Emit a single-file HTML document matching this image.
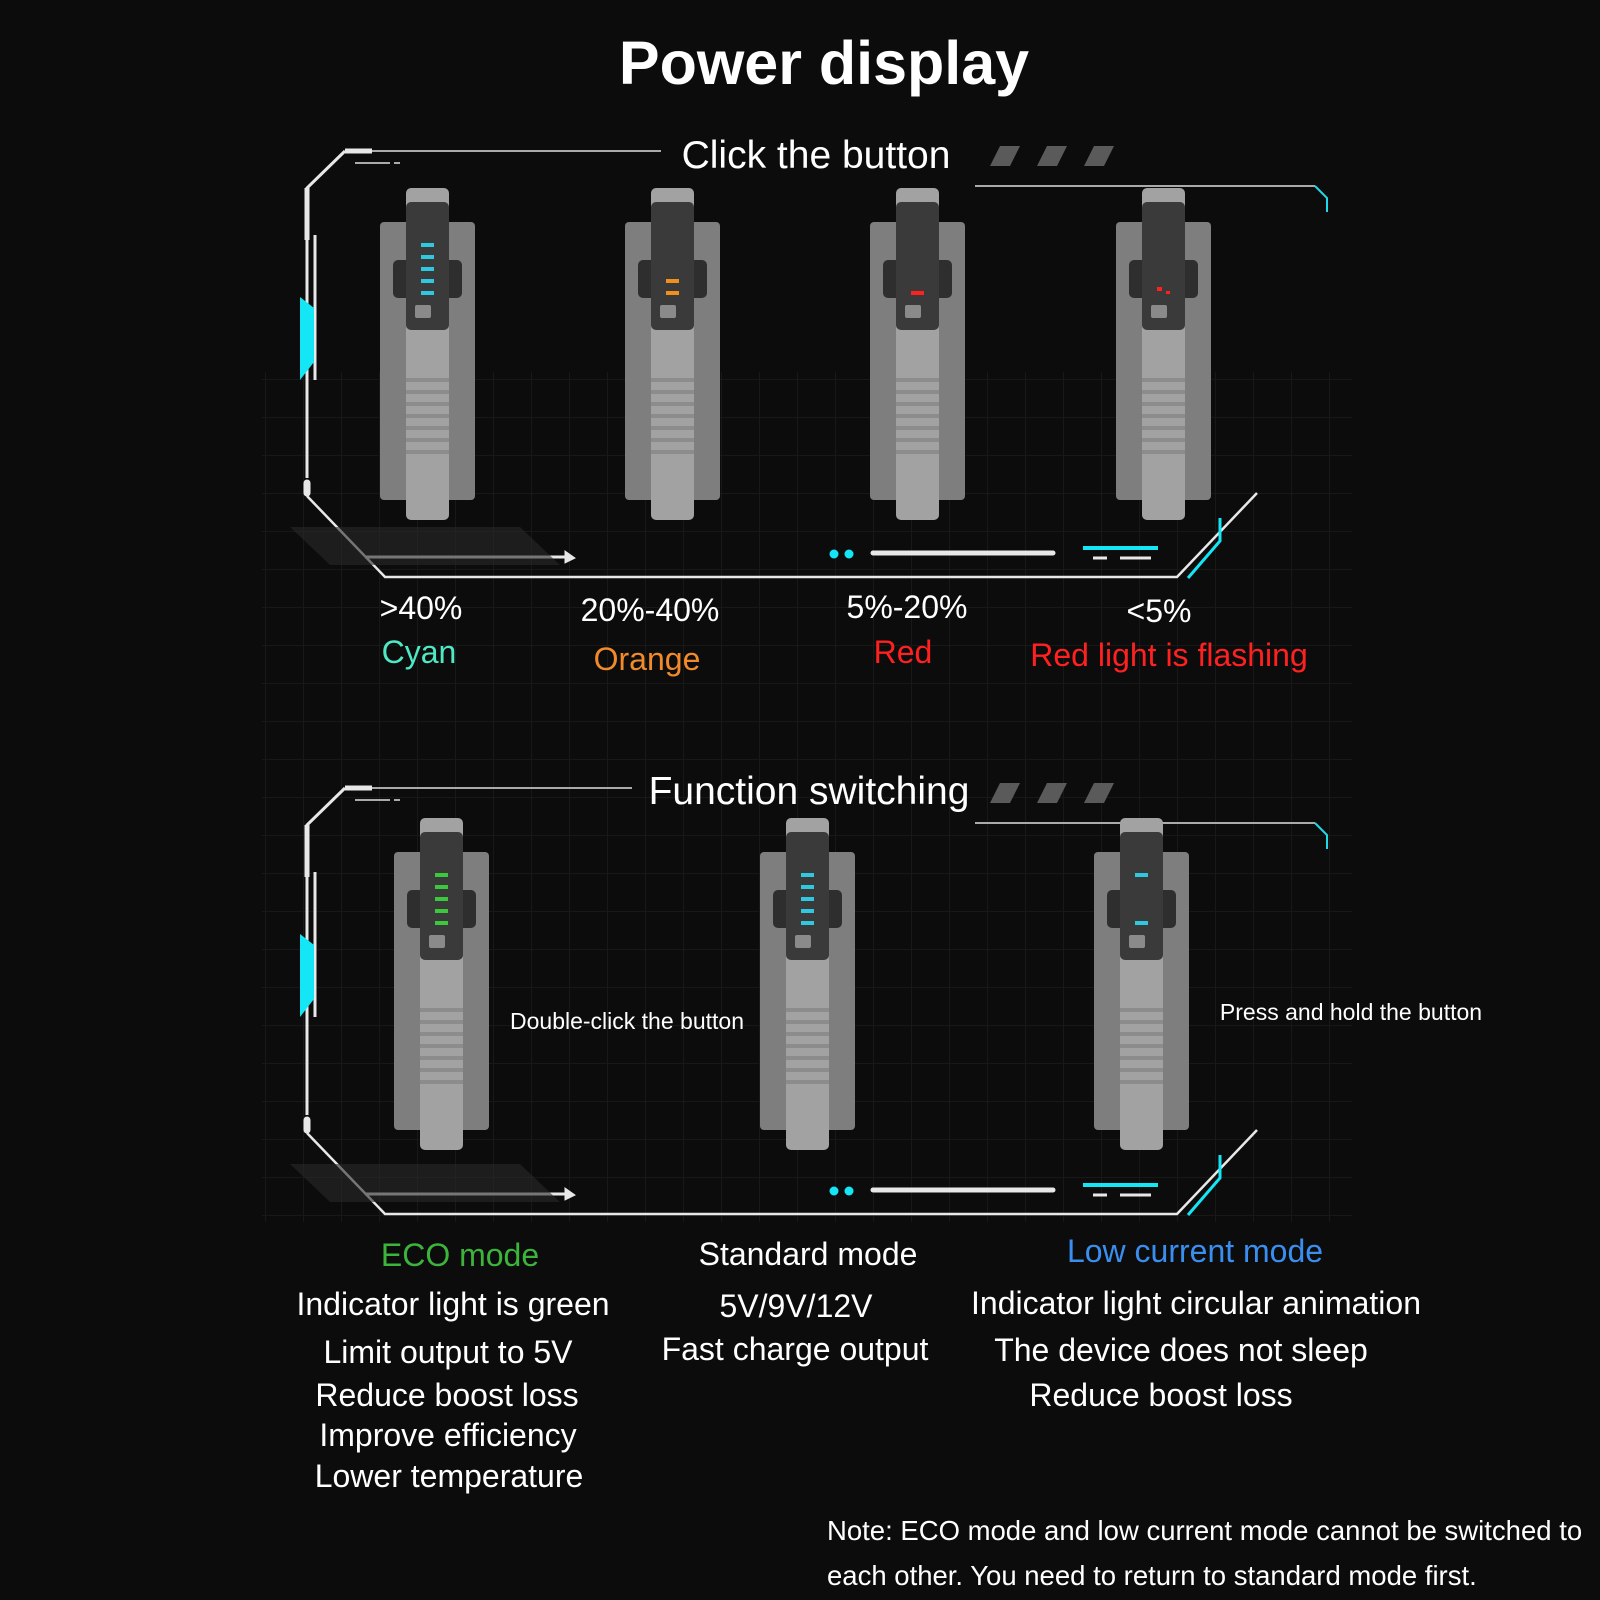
<!DOCTYPE html>
<html><head><meta charset="utf-8"><style>
html,body{margin:0;padding:0;background:#0c0c0c;}
body{width:1600px;height:1600px;overflow:hidden;position:relative;font-family:"Liberation Sans",sans-serif;}
.t{position:absolute;white-space:nowrap;transform:translateX(-50%);color:#fff;}
</style></head><body>
<svg width="1600" height="1600" style="position:absolute;left:0;top:0">
<defs>
<pattern id="grid" width="38" height="38" patternUnits="userSpaceOnUse">
<path d="M38 0V38H0" fill="none" stroke="#181818" stroke-width="2"/>
</pattern>
<g id="dev">
<rect x="0" y="0" width="95" height="278" rx="4" fill="#7e7e7e"/>
<rect x="26" y="-34" width="43" height="332" rx="5" fill="#a2a2a2"/>
<rect x="13" y="38" width="69" height="38" rx="5" fill="#2e2e2e"/>
<rect x="26" y="-20" width="43" height="128" rx="5" fill="#3a3a3a"/>
<rect x="35" y="83" width="16" height="13" rx="2" fill="#8a8a8a"/>
<g fill="#8c8c8c"><rect x="26" y="156" width="43" height="4"/><rect x="26" y="168" width="43" height="4"/><rect x="26" y="180" width="43" height="4"/><rect x="26" y="192" width="43" height="4"/><rect x="26" y="204" width="43" height="4"/><rect x="26" y="216" width="43" height="4"/><rect x="26" y="228" width="43" height="4"/></g>
</g>
<g id="frame" fill="none" stroke="#e8e8e8">
<path d="M345 151H372" stroke-width="5"/>
<path d="M355 163H390M394 163H400" stroke-width="2" stroke="#aaa"/>
<path d="M345 151L307 188V478" stroke-width="3"/>
<path d="M307 188V240" stroke-width="5"/>
<rect x="304" y="480" width="6" height="16" rx="3" fill="#e8e8e8"/>
<path d="M307 496L385 577H1177L1257 493" stroke-width="2.5"/>
<path d="M315 235V380" stroke-width="3"/>
<path d="M365 557H565" stroke-width="3"/>
<path d="M565 551L575 558L565 563Z" fill="#e8e8e8"/>
<path d="M975 186H1315" stroke-width="2" stroke="#aaa"/>
<path d="M1315 186L1327 198V212" stroke="#22d8e8" stroke-width="2"/>
<path d="M300 297L314 308V362L300 380Z" fill="#14e6f5" stroke="none"/>
<circle cx="834" cy="554" r="4.5" fill="#14e6f5" stroke="none"/>
<circle cx="849" cy="554" r="4.5" fill="#14e6f5" stroke="none"/>
<path d="M873 553H1053" stroke-width="5" stroke-linecap="round"/>
<path d="M1085 550V548H1156V550" stroke="#14e6f5" stroke-width="4"/>
<path d="M1093 558H1107M1120 558H1151" stroke-width="3"/>
<path d="M1188 578L1220 541V518" stroke="#14e6f5" stroke-width="3"/>
<path d="M290 527L330 565H560L520 527Z" fill="#2a2a2a" stroke="none" opacity=".6"/>
</g>
</defs>
<rect x="262" y="372" width="1090" height="850" fill="url(#grid)"/>
<use href="#frame"/>
<use href="#frame" transform="translate(0,637)"/>
<path d="M372 151H661" stroke="#aaa" stroke-width="2"/>
<path d="M372 788H632" stroke="#aaa" stroke-width="2"/>
<g fill="#5a5a5a">
<path d="M1000 146H1020L1010 166H990Z"/><path d="M1047 146H1067L1057 166H1037Z"/><path d="M1094 146H1114L1104 166H1084Z"/>
<path d="M1000 783H1020L1010 803H990Z"/><path d="M1047 783H1067L1057 803H1037Z"/><path d="M1094 783H1114L1104 803H1084Z"/>
</g>
<g transform="translate(380,222)"><use href="#dev"/><g fill="#2ec8e0"><rect x="41" y="21" width="13" height="4"/><rect x="41" y="33" width="13" height="4"/><rect x="41" y="45" width="13" height="4"/><rect x="41" y="57" width="13" height="4"/><rect x="41" y="69" width="13" height="4"/></g></g>
<g transform="translate(625,222)"><use href="#dev"/><g fill="#f0901a"><rect x="41" y="57" width="13" height="4"/><rect x="41" y="69" width="13" height="4"/></g></g>
<g transform="translate(870,222)"><use href="#dev"/><rect x="41" y="69" width="13" height="4" fill="#ff2020"/></g>
<g transform="translate(1116,222)"><use href="#dev"/><rect x="41" y="65" width="5" height="4" fill="#ff2020"/><rect x="50" y="69" width="4" height="3" fill="#ff2020"/></g>
<g transform="translate(394,852)"><use href="#dev"/><g fill="#3cc83c"><rect x="41" y="21" width="13" height="4"/><rect x="41" y="33" width="13" height="4"/><rect x="41" y="45" width="13" height="4"/><rect x="41" y="57" width="13" height="4"/><rect x="41" y="69" width="13" height="4"/></g></g>
<g transform="translate(760,852)"><use href="#dev"/><g fill="#2ec8e0"><rect x="41" y="21" width="13" height="4"/><rect x="41" y="33" width="13" height="4"/><rect x="41" y="45" width="13" height="4"/><rect x="41" y="57" width="13" height="4"/><rect x="41" y="69" width="13" height="4"/></g></g>
<g transform="translate(1094,852)"><use href="#dev"/><g fill="#2ec8e0"><rect x="41" y="21" width="13" height="4"/><rect x="41" y="69" width="13" height="4"/></g></g>
</svg>
<div class="t" style="left:824px;top:28px;font-size:61px;font-weight:bold;">Power display</div>
<div class="t" style="left:816px;top:134px;font-size:39px;">Click the button</div>
<div class="t" style="left:421px;top:590px;font-size:32px;">&gt;40%</div>
<div class="t" style="left:419px;top:634px;font-size:32px;color:#4fe8c4;">Cyan</div>
<div class="t" style="left:650px;top:592px;font-size:32px;">20%-40%</div>
<div class="t" style="left:647px;top:641px;font-size:32px;color:#f08a2a;">Orange</div>
<div class="t" style="left:907px;top:589px;font-size:32px;">5%-20%</div>
<div class="t" style="left:903px;top:634px;font-size:32px;color:#ff2020;">Red</div>
<div class="t" style="left:1159px;top:593px;font-size:32px;">&lt;5%</div>
<div class="t" style="left:1169px;top:637px;font-size:32px;color:#ff2020;">Red light is flashing</div>
<div class="t" style="left:809px;top:770px;font-size:39px;">Function switching</div>
<div class="t" style="left:627px;top:1008px;font-size:23px;">Double-click the button</div>
<div class="t" style="left:1351px;top:999px;font-size:23px;">Press and hold the button</div>
<div class="t" style="left:460px;top:1237px;font-size:32px;color:#3cb43c;">ECO mode</div>
<div class="t" style="left:453px;top:1286px;font-size:32px;">Indicator light is green</div>
<div class="t" style="left:448px;top:1334px;font-size:32px;">Limit output to 5V</div>
<div class="t" style="left:447px;top:1377px;font-size:32px;">Reduce boost loss</div>
<div class="t" style="left:448px;top:1417px;font-size:32px;">Improve efficiency</div>
<div class="t" style="left:449px;top:1458px;font-size:32px;">Lower temperature</div>
<div class="t" style="left:808px;top:1236px;font-size:32px;">Standard mode</div>
<div class="t" style="left:796px;top:1288px;font-size:32px;">5V/9V/12V</div>
<div class="t" style="left:795px;top:1331px;font-size:32px;">Fast charge output</div>
<div class="t" style="left:1195px;top:1233px;font-size:32px;color:#3a8ef0;">Low current mode</div>
<div class="t" style="left:1196px;top:1285px;font-size:32px;">Indicator light circular animation</div>
<div class="t" style="left:1181px;top:1332px;font-size:32px;">The device does not sleep</div>
<div class="t" style="left:1161px;top:1377px;font-size:32px;">Reduce boost loss</div>
<div style="position:absolute;left:827px;top:1508px;font-size:27.5px;color:#fff;line-height:45px;white-space:nowrap;">Note: ECO mode and low current mode cannot be switched to<br>each other. You need to return to standard mode first.</div>
</body></html>
